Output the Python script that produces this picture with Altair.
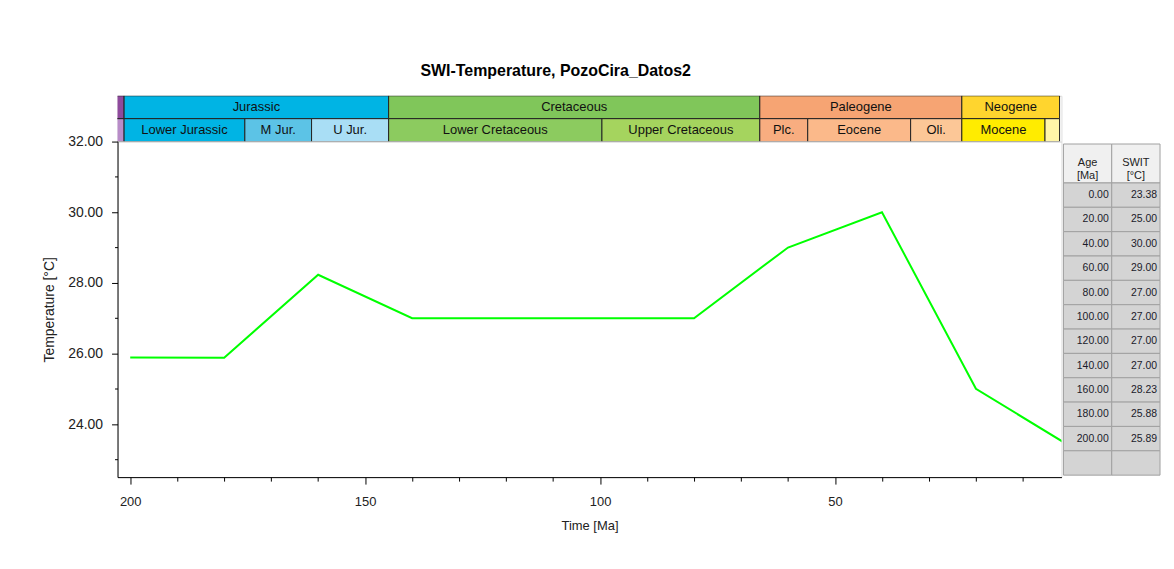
import altair as alt
import pandas as pd

# ---------------- data ----------------
ages = [0, 20, 40, 60, 80, 100, 120, 140, 160, 180, 200]
swit = [23.38, 25.00, 30.00, 29.00, 27.00, 27.00, 27.00, 27.00, 28.23, 25.88, 25.89]

period_names = ["", "Jurassic", "Cretaceous", "Paleogene", "Neogene"]
period_old = [215.0, 201.3, 145.0, 66.0, 23.0]
period_young = [201.3, 145.0, 66.0, 23.0, 2.2]
period_colors = ["#8e4a9c", "#00b4e4", "#80c65a", "#f6a473", "#ffd52e"]

epoch_names = ["", "Lower Jurassic", "M Jur.", "U Jur.", "Lower Cretaceous",
               "Upper Cretaceous", "Plc.", "Eocene", "Oli.", "Mocene", ""]
epoch_old = [215.0, 201.3, 175.6, 161.4, 145.0, 99.6, 66.0, 55.8, 33.9, 23.0, 5.3]
epoch_young = [201.3, 175.6, 161.4, 145.0, 99.6, 66.0, 55.8, 33.9, 23.0, 5.3, 2.2]
epoch_colors = ["#b88cc8", "#00b4e4", "#5cc3e6", "#a9def5", "#8ccb5f",
                "#a5d45e", "#f8ad80", "#fbb98a", "#fcc797", "#ffec00", "#fff5a8"]

x_tick_values = [200, 190, 180, 170, 160, 150, 140, 130, 120, 110, 100,
                 90, 80, 70, 60, 50, 40, 30, 20, 10]
y_tick_values = [23, 24, 25, 26, 27, 28, 29, 30, 31, 32]

table_headers = ["Age\n[Ma]", "SWIT\n[°C]"]

FONT = "Liberation Sans"
W, H = 948, 337

xscale = alt.Scale(domain=[202.7, 1.8], nice=False, zero=False)

# ---------------- header (time scale bands) ----------------
hdr_rows = []
for n, o, y, c in zip(period_names, period_old, period_young, period_colors):
    hdr_rows.append({"row": "period", "name": n, "old": o, "young": y,
                     "mid": (o + y) / 2, "color": c})
for n, o, y, c in zip(epoch_names, epoch_old, epoch_young, epoch_colors):
    hdr_rows.append({"row": "epoch", "name": n, "old": o, "young": y,
                     "mid": (o + y) / 2, "color": c})
hdr = pd.DataFrame(hdr_rows)

row_scale = alt.Scale(domain=["period", "epoch"], paddingInner=0, paddingOuter=0)
hbase = alt.Chart(hdr)
h_rects = hbase.mark_rect(stroke="#222222", strokeWidth=1, clip=True).encode(
    x=alt.X("old:Q", scale=xscale, axis=None),
    x2="young:Q",
    y=alt.Y("row:N", scale=row_scale, axis=None),
    fill=alt.Fill("color:N", scale=None),
)
h_text = hbase.mark_text(font=FONT, fontSize=13, color="#111111").encode(
    x=alt.X("mid:Q", scale=xscale, axis=None),
    y=alt.Y("row:N", scale=row_scale, axis=None),
    text="name:N",
)
header = (h_rects + h_text).properties(width=W, height=46)

# ---------------- main line chart ----------------
df = pd.DataFrame({"age": ages, "swit": swit})
line = alt.Chart(df).mark_line(color="#00ff00", strokeWidth=2, clip=True).encode(
    x=alt.X("age:Q", scale=xscale,
            axis=alt.Axis(values=x_tick_values,
                          labelExpr="datum.value % 50 === 0 ? datum.label : ''",
                          tickSize={"condition": {"test": "datum.value % 50 === 0", "value": 7}, "value": 4},
                          labelOverlap=False, labelFlush=False, grid=False,
                          labelFont=FONT, labelFontSize=13, labelColor="#222222",
                          labelPadding=11, title="Time [Ma]", titleFont=FONT,
                          titleFontSize=13, titleFontWeight="normal",
                          titleColor="#222222", titlePadding=12,
                          domainColor="#000000", tickColor="#000000")),
    y=alt.Y("swit:Q", scale=alt.Scale(domain=[22.5, 32], nice=False, zero=False),
            axis=alt.Axis(values=y_tick_values,
                          labelExpr="datum.value % 2 === 0 ? format(datum.value, '.2f') : ''",
                          tickSize={"condition": {"test": "datum.value % 2 === 0", "value": 6}, "value": 3},
                          labelOverlap=False, labelFlush=False, grid=False,
                          labelFont=FONT, labelFontSize=14, labelColor="#222222",
                          labelPadding=9, title="Temperature [°C]", titleFont=FONT,
                          titleFontSize=14, titleFontWeight="normal",
                          titleColor="#222222", titlePadding=11,
                          domainColor="#000000", tickColor="#000000")),
)
main = line.properties(width=W, height=H)

# ---------------- side table ----------------
cells = []
for c, h in enumerate(table_headers):
    cells.append({"c0": c, "c1": c + 1, "cm": c + 0.5, "y0": 0.0, "y1": 1.6,
                  "ym": 0.8, "fill": "#f0f0f0", "txt": h, "kind": "head"})
for i, (a, s) in enumerate(zip(ages, swit)):
    for c, v in enumerate([a, s]):
        cells.append({"c0": c, "c1": c + 1, "cm": c + 0.5, "y0": 1.6 + i,
                      "y1": 2.6 + i, "ym": 2.1 + i, "fill": "#d4d4d4",
                      "txt": f"{v:.2f}", "kind": "data"})
for c in range(2):
    cells.append({"c0": c, "c1": c + 1, "cm": c + 0.5, "y0": 12.6, "y1": 13.6,
                  "ym": 13.1, "fill": "#d4d4d4", "txt": "", "kind": "data"})
tab = pd.DataFrame(cells)

tx = alt.Scale(domain=[0, 2], nice=False, zero=False)
ty = alt.Scale(domain=[-0.1, 13.6], nice=False, zero=False, reverse=True)
tbase = alt.Chart(tab)
t_rects = tbase.mark_rect(stroke="#a0a0a0", strokeWidth=1).encode(
    x=alt.X("c0:Q", scale=tx, axis=None), x2="c1:Q",
    y=alt.Y("y0:Q", scale=ty, axis=None), y2="y1:Q",
    fill=alt.Fill("fill:N", scale=None),
)
t_head = tbase.transform_filter(alt.datum.kind == "head").mark_text(
    font=FONT, fontSize=11, color="#222222", lineBreak="\n", lineHeight=13
).encode(
    x=alt.X("cm:Q", scale=tx, axis=None),
    y=alt.Y("ym:Q", scale=ty, axis=None),
    text="txt:N",
)
t_data = tbase.transform_filter(alt.datum.kind == "data").mark_text(
    font=FONT, fontSize=10.5, color="#1a1a2a", align="right", dx=-3
).encode(
    x=alt.X("c1:Q", scale=tx, axis=None),
    y=alt.Y("ym:Q", scale=ty, axis=None),
    text="txt:N",
)
table = (t_rects + t_head + t_data).properties(
    width=97, height=335, view=alt.ViewBackground(stroke=None))

# ---------------- assemble ----------------
row = alt.hconcat(main, table, spacing=2, bounds="flush")
chart = alt.vconcat(header, row, spacing=0, bounds="flush").properties(
    title=alt.TitleParams("SWI-Temperature, PozoCira_Datos2", font=FONT,
                          fontSize=16, fontWeight="bold", color="#000000",
                          anchor="middle", offset=16, dx=-46),
    padding={"left": 34, "top": 54, "right": 5, "bottom": 5},
).configure_view(stroke="#000000", strokeWidth=1).configure(background="#ffffff")

chart.save("out.html", embed_options={"renderer": "svg", "actions": False})
